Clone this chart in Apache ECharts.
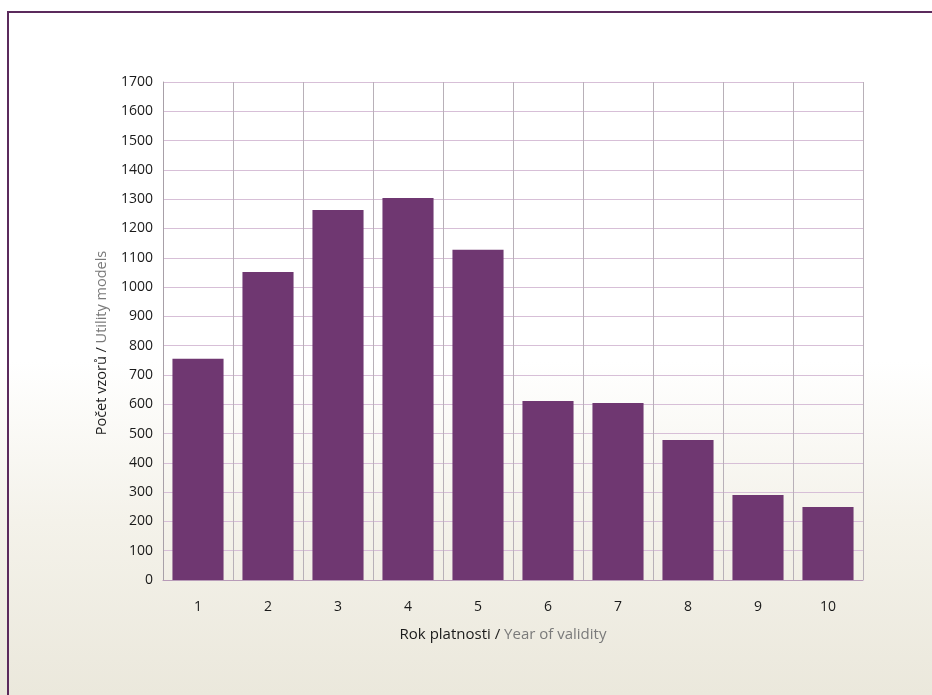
<!DOCTYPE html>
<html>
<head>
<meta charset="utf-8">
<script src="https://cdn.jsdelivr.net/npm/echarts@6/dist/echarts.min.js"></script>
<style>
html,body{margin:0;padding:0;width:932px;height:695px;overflow:hidden;}
body{background:linear-gradient(to bottom,#ffffff 0%,#ffffff 52%,#f4f2ea 75%,#ebe8dc 100%);}
#frame{position:absolute;left:7px;top:11px;width:925px;height:684px;border-top:2px solid #5b2a5c;border-left:2px solid #5b2a5c;box-sizing:border-box;}
#chart{position:absolute;left:0;top:0;width:932px;height:695px;}
</style>
</head>
<body>
<div id="frame"></div>
<div id="chart"></div>
<script>
const categories = ['1','2','3','4','5','6','7','8','9','10'];
const values = [755, 1051, 1263, 1304, 1127, 611, 604, 478, 290, 249];
const yTicks = [0,100,200,300,400,500,600,700,800,900,1000,1100,1200,1300,1400,1500,1600,1700];

const chart = echarts.init(document.getElementById('chart'), null, {renderer:'canvas'});
const font = "'Open Sans', 'Noto Sans', sans-serif";
chart.setOption({
  backgroundColor: 'transparent',
  animation: false,
  grid: {left:163, right:69, top:82, bottom:115, containLabel:false},
  xAxis: {
    type:'category',
    data: categories,
    name: '{a|Rok platnosti / }{b|Year of validity}',
    nameLocation:'middle',
    nameGap: 47,
    nameTextStyle: {padding:[0,20,0,0],rich:{a:{color:'#1a1a1a',fontSize:15,fontFamily:font},b:{color:'#7a7a7a',fontSize:15,fontFamily:font}}},
    axisLine:{show:true,lineStyle:{color:'#b89bb8',width:1}},
    axisTick:{show:false},
    axisLabel:{color:'#1a1a1a',fontSize:14,fontFamily:font,margin:20},
    splitLine:{show:true,lineStyle:{color:'#b8b0b8',width:1}}
  },
  yAxis: {
    type:'value',
    min: yTicks[0],
    max: yTicks[yTicks.length-1],
    interval: 100,
    name: '{a|Počet vzorů / }{b|Utility models}',
    nameLocation:'middle',
    nameGap: 54,
    nameRotate: 90,
    nameTextStyle: {padding:[0,24,0,0],rich:{a:{color:'#1a1a1a',fontSize:14.5,fontFamily:font},b:{color:'#7a7a7a',fontSize:14.5,fontFamily:font}}},
    axisLine:{show:true,lineStyle:{color:'#a8a0a8',width:1}},
    axisTick:{show:false},
    axisLabel:{color:'#1a1a1a',fontSize:14,fontFamily:font,margin:10,formatter:function(v){return String(v);}},
    splitLine:{show:true,lineStyle:{color:'#d7bfd7',width:1}}
  },
  series: [{
    type:'bar',
    data: values,
    barCategoryGap:'27%',
    itemStyle:{color:'#6f3771'}
  }]
});
</script>
</body>
</html>
